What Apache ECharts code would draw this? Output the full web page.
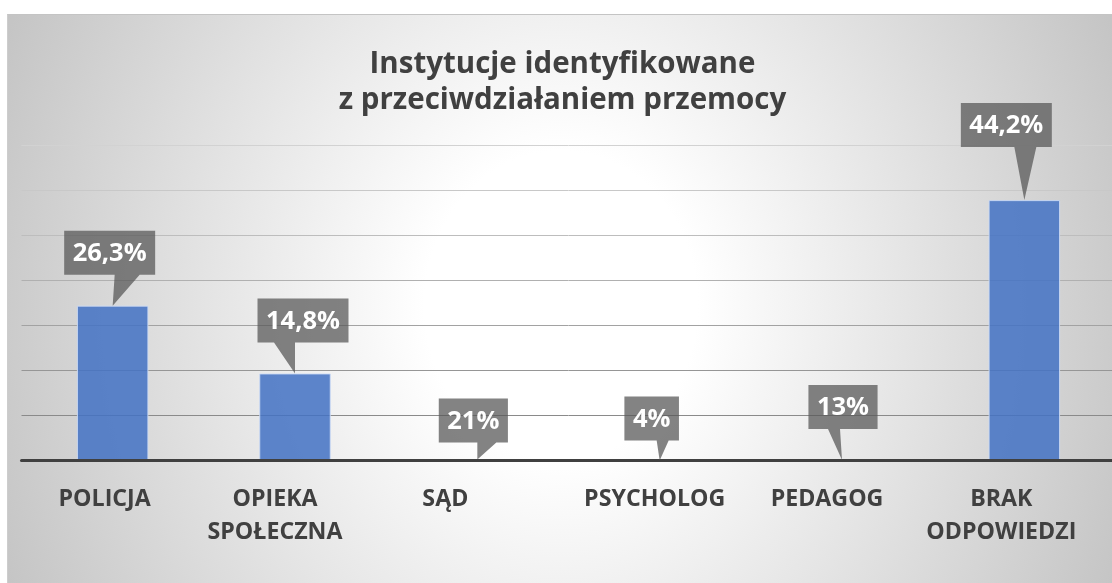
<!DOCTYPE html>
<html>
<head>
<meta charset="utf-8">
<script src="https://cdn.jsdelivr.net/npm/echarts@6/dist/echarts.min.js"></script>
<style>
  html, body { margin: 0; padding: 0; width: 1112px; height: 583px; overflow: hidden; background: #fff; }
  #frame {
    position: absolute; left: 7px; top: 14px; width: 1120px; height: 580px;
    border-top: 1px solid #c4c4c4; border-left: 1px solid #cdcdcd;
    background: radial-gradient(ellipse 620px 700px at 553px 290px, #ffffff 22%, #c3c3c3 100%);
  }
  #chart { position: absolute; left: 0; top: 0; width: 1125px; height: 583px; }
</style>
</head>
<body>
<div id="frame"></div>
<div id="chart"></div>
<script>
var categories = ['POLICJA', 'OPIEKA\nSPOŁECZNA', 'SĄD', 'PSYCHOLOG', 'PEDAGOG', 'BRAK\nODPOWIEDZI'];
var values = [26.3, 14.8, 0.21, 0.04, 0.13, 44.2];
var valueLabels = ['26,3%', '14,8%', '21%', '4%', '13%', '44,2%'];

// callout placement relative to the bar top: [box dx, gap above tip, pointer base left, pointer base right]
var calloutLayout = [
  [-3, 31, 2, 27],
  [8, 31, -21, 0],
  [-4, 17, 0, 19],
  [-8, 20, -3, 9],
  [1, 31, -14, -2],
  [-18, 53, -10, 12]
];
// category labels sit a bit left of the bar centres
var catLabelShift = [8, 20, 32, 5, 15, 23];

var labelFont = 'bold 25.5px "Open Sans"';
var measureCtx = document.createElement('canvas').getContext('2d');
measureCtx.font = labelFont;

function renderCallout(params, api) {
  var i = params.dataIndex;
  var tip = api.coord([api.value(0), api.value(1)]);
  var lay = calloutLayout[i];
  var text = valueLabels[i];
  var w = measureCtx.measureText(text).width + 17;
  var h = 44;
  var cx = tip[0] + lay[0];
  var bottom = tip[1] - lay[1];
  var top = bottom - h;
  var left = cx - w / 2, right = cx + w / 2;
  var pts = [
    [left, top], [right, top], [right, bottom],
    [tip[0] + lay[3], bottom], [tip[0], tip[1]], [tip[0] + lay[2], bottom],
    [left, bottom]
  ];
  return {
    type: 'group',
    children: [
      { type: 'polygon', shape: { points: pts }, style: { fill: 'rgba(88,88,88,0.74)' } },
      { type: 'text', x: cx, y: top + h / 2 + 1,
        style: { text: text, fill: '#ffffff', font: labelFont, align: 'center', verticalAlign: 'middle' } }
    ]
  };
}

var chart = echarts.init(document.getElementById('chart'));
chart.setOption({
  animation: false,
  title: {
    text: 'Instytucje identyfikowane\nz przeciwdziałaniem przemocy',
    left: 'center',
    top: 41.5,
    textStyle: { fontFamily: 'Open Sans', fontWeight: 'bold', fontSize: 29.5, lineHeight: 36, color: '#404040' }
  },
  grid: { left: 21.5, width: 1098, top: 145, height: 315.7 },
  xAxis: {
    type: 'category',
    z: 5,
    data: categories.map(function (c, i) {
      return { value: c, textStyle: { padding: [0, catLabelShift[i] * 2, 0, 0] } };
    }),
    axisLine: { lineStyle: { color: '#404040', width: 3 } },
    axisTick: { show: false },
    axisLabel: {
      interval: 0, margin: 21.5, color: '#404040',
      fontFamily: 'Open Sans', fontWeight: 'bold', fontSize: 23.2, lineHeight: 33.5
    }
  },
  yAxis: {
    type: 'value',
    min: 0, max: 53.55, interval: 7.65,
    axisLabel: { show: false },
    axisLine: { show: false },
    axisTick: { show: false },
    splitLine: {
      lineStyle: {
        width: 1,
        color: ['#888888', '#8a8a8a', '#969696', '#a2a2a2', '#b0b0b0', '#bdbdbd', '#c8c8c8', '#d2d2d2']
      }
    }
  },
  series: [
    {
      type: 'bar',
      data: values,
      barWidth: 71.5,
      itemStyle: { color: 'rgba(68,114,196,0.86)', borderColor: 'rgba(205,220,245,0.9)', borderWidth: 1 }
    },
    {
      type: 'custom',
      data: values.map(function (v, i) { return [i, v]; }),
      renderItem: renderCallout,
      z: 6
    }
  ]
});
</script>
</body>
</html>
